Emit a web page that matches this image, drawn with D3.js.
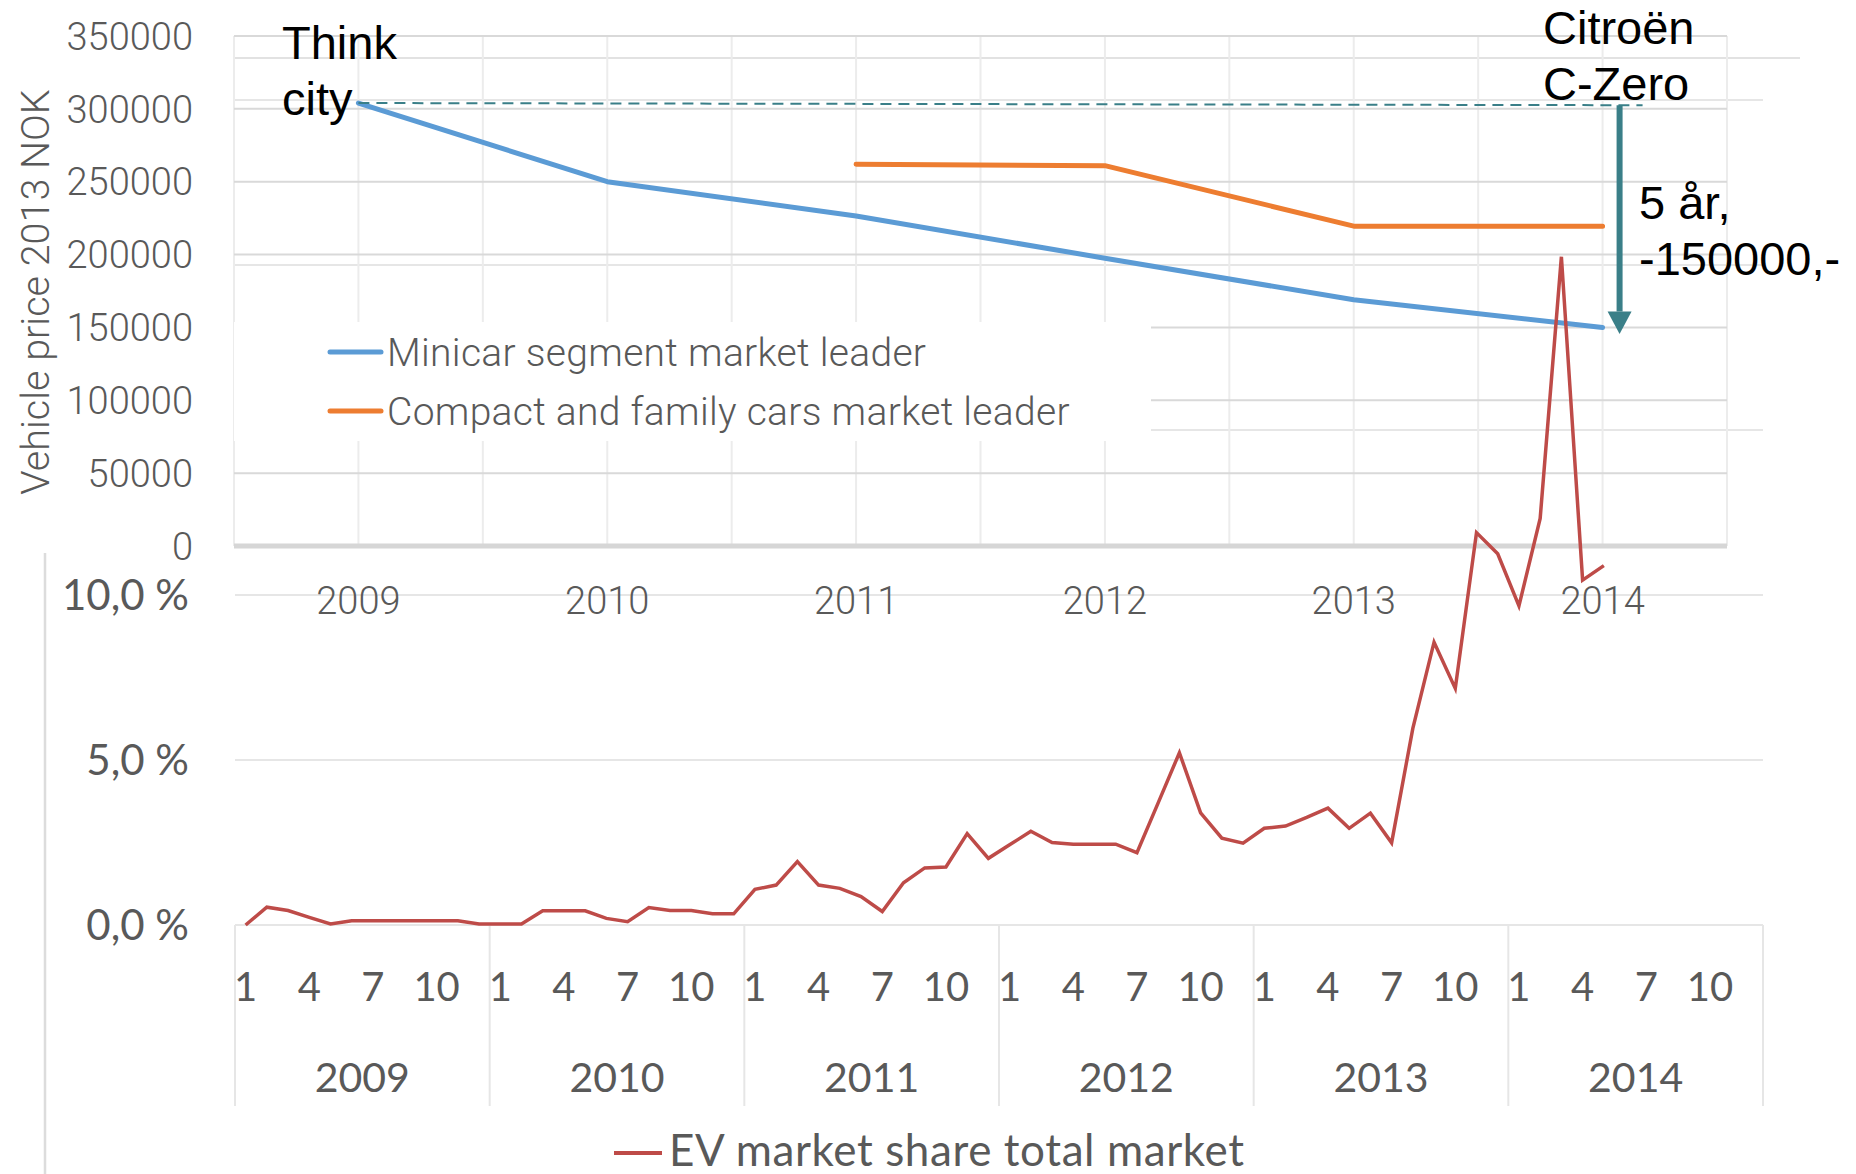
<!DOCTYPE html>
<html>
<head>
<meta charset="utf-8">
<script src="https://cdn.jsdelivr.net/npm/d3@7"></script>
<style>
  body { margin: 0; background: #fff; }
</style>
</head>
<body>
<div id="wrapper"></div>
<script>
// ---- data: vehicle price panel (top)
const priceYears = ["2009", "2010", "2011", "2012", "2013", "2014"]
const minicarPrices = [304000, 250000, 226500, 197500, 169000, 150000]
const compactPrices = [null, null, 262000, 261000, 219500, 219500]
const priceTicks = [0, 50000, 100000, 150000, 200000, 250000, 300000, 350000]
const priceSeriesNames = ["Minicar segment market leader", "Compact and family cars market leader"]

// ---- data: EV market share panel (bottom), monthly, %
const shareYears = ["2009", "2010", "2011", "2012", "2013", "2014"]
const monthLabels = [1, 4, 7, 10]
const shareTicks = [0, 5, 10]
const shareGridTicks = [0, 5, 10, 15, 20, 25]
const evShare = [
  0.00, 0.54, 0.44, 0.23, 0.03, 0.13, 0.13, 0.13, 0.13, 0.13, 0.13, 0.03,
  0.03, 0.03, 0.43, 0.43, 0.43, 0.20, 0.10, 0.53, 0.44, 0.44, 0.34, 0.34,
  1.08, 1.21, 1.92, 1.21, 1.11, 0.86, 0.41, 1.28, 1.73, 1.76, 2.77, 2.02,
  2.43, 2.84, 2.50, 2.45, 2.45, 2.45, 2.19, 3.70, 5.22, 3.40, 2.63, 2.48,
  2.93, 3.00, 3.26, 3.54, 2.93, 3.39, 2.49, 5.96, 8.57, 7.17, 11.89, 11.25,
  9.67, 12.32, 20.25, 10.45, 10.89
]
const evSeriesName = "EV market share total market"

function drawChart() {
  // 1. dimensions (two pasted-together panels that overlap)
  const dimensions = { width: 1856, height: 1174 }
  const top = { left: 234, right: 1727, top: 36, bottom: 546 }
  const bottom = { left: 235, right: 1763, zero: 925, ten: 595 }

  const axisFont = "Roboto, 'Noto Sans', sans-serif"
  const shareFont = "Lato, 'Open Sans', sans-serif"
  const noteFont = "'Liberation Sans', Arial, sans-serif"
  const grey = "#595959"

  // 2. canvas
  const svg = d3.select("#wrapper")
    .append("svg")
    .attr("width", dimensions.width)
    .attr("height", dimensions.height)

  // 3. scales
  const priceX = d3.scaleBand().domain(priceYears).range([top.left, top.right])
  const priceMid = d => priceX(d) + priceX.bandwidth() / 2
  const priceY = d3.scaleLinear().domain([0, 350000]).range([top.bottom, top.top])

  const months = evShare.map((d, i) => i)
  const allMonths = d3.range(shareYears.length * 12)
  const shareX = d3.scaleBand().domain(allMonths).range([bottom.left, bottom.right])
  const shareMid = i => shareX(i) + shareX.bandwidth() / 2
  const shareY = d3.scaleLinear().domain([0, 10]).range([bottom.zero, bottom.ten])

  // 4. bottom panel frame + grid
  const lower = svg.append("g")
  lower.append("line")
    .attr("x1", 45).attr("x2", 45)
    .attr("y1", 553).attr("y2", dimensions.height)
    .attr("stroke", "#dcdcdc").attr("stroke-width", 2.5)
  lower.append("line")
    .attr("x1", top.left).attr("x2", 1800)
    .attr("y1", 58).attr("y2", 58)
    .attr("stroke", "#e2e2e2").attr("stroke-width", 2)
  lower.selectAll(".sgrid")
    .data(shareGridTicks)
    .join("line")
    .attr("x1", bottom.left).attr("x2", bottom.right)
    .attr("y1", d => shareY(d)).attr("y2", d => shareY(d))
    .attr("stroke", "#e6e6e6").attr("stroke-width", 2)
  lower.selectAll(".slabel")
    .data(shareTicks)
    .join("text")
    .attr("x", 189)
    .attr("y", d => shareY(d))
    .attr("dy", "0.36em")
    .attr("text-anchor", "end")
    .attr("font-family", shareFont)
    .attr("font-size", 42)
    .attr("fill", grey)
    .text(d => d3.format(".1f")(d).replace(".", ",") + " %")

  // multi-level category axis: months, then years
  const yearStarts = shareYears.map((y, k) => shareX(k * 12))
  yearStarts.push(bottom.right)
  lower.selectAll(".ysep")
    .data(yearStarts)
    .join("line")
    .attr("x1", d => d).attr("x2", d => d)
    .attr("y1", bottom.zero).attr("y2", 1106)
    .attr("stroke", "#e6e6e6").attr("stroke-width", 2)
  const monthTickData = allMonths.filter(i => monthLabels.includes(i % 12 + 1))
  lower.selectAll(".mlabel")
    .data(monthTickData)
    .join("text")
    .attr("x", d => shareMid(d))
    .attr("y", 1001)
    .attr("text-anchor", "middle")
    .attr("font-family", shareFont)
    .attr("font-size", 40)
    .attr("fill", grey)
    .text(d => d % 12 + 1)
  lower.selectAll(".ylabel")
    .data(shareYears)
    .join("text")
    .attr("x", (d, k) => shareX(k * 12) + shareX.bandwidth() * 6)
    .attr("y", 1092)
    .attr("text-anchor", "middle")
    .attr("font-family", shareFont)
    .attr("font-size", 41)
    .attr("fill", grey)
    .text(d => d)

  // bottom legend
  lower.append("line")
    .attr("x1", 614).attr("x2", 662)
    .attr("y1", 1153).attr("y2", 1153)
    .attr("stroke", "#be4b48").attr("stroke-width", 4)
  lower.append("text")
    .attr("x", 669).attr("y", 1166)
    .attr("font-family", shareFont)
    .attr("font-size", 44)
    .attr("letter-spacing", 0.6)
    .attr("fill", grey)
    .text(evSeriesName)

  // 5. top panel grid + axes
  const upper = svg.append("g")
  const vGrid = []
  priceYears.forEach(y => { vGrid.push(priceX(y)); vGrid.push(priceMid(y)) })
  vGrid.push(top.right)
  upper.selectAll(".vgrid")
    .data(vGrid)
    .join("line")
    .attr("x1", d => d).attr("x2", d => d)
    .attr("y1", top.top).attr("y2", top.bottom)
    .attr("stroke", "#ececec").attr("stroke-width", 2)
  upper.selectAll(".pgrid")
    .data(priceTicks.slice(1))
    .join("line")
    .attr("x1", top.left).attr("x2", top.right)
    .attr("y1", d => priceY(d)).attr("y2", d => priceY(d))
    .attr("stroke", "#d9d9d9").attr("stroke-width", 2)
  upper.append("line")
    .attr("x1", top.left).attr("x2", top.right)
    .attr("y1", priceY(0)).attr("y2", priceY(0))
    .attr("stroke", "#d6d6d6").attr("stroke-width", 5)
  upper.selectAll(".plabel")
    .data(priceTicks)
    .join("text")
    .attr("x", 193)
    .attr("y", d => priceY(d))
    .attr("dy", "0.36em")
    .attr("text-anchor", "end")
    .attr("font-family", axisFont)
    .attr("font-weight", 300)
    .attr("font-size", 38)
    .attr("fill", grey)
    .text(d => d)
  upper.selectAll(".xlabel")
    .data(priceYears)
    .join("text")
    .attr("x", d => priceMid(d))
    .attr("y", 614)
    .attr("text-anchor", "middle")
    .attr("font-family", axisFont)
    .attr("font-weight", 300)
    .attr("font-size", 38)
    .attr("fill", grey)
    .text(d => d)
  upper.append("text")
    .attr("transform", "translate(35, 292) rotate(-90)")
    .attr("text-anchor", "middle")
    .attr("dominant-baseline", "central")
    .attr("font-family", axisFont)
    .attr("font-weight", 300)
    .attr("font-size", 39.5)
    .attr("fill", grey)
    .text("Vehicle price 2013 NOK")

  // legend box (opaque, hides grid behind it)
  upper.append("rect")
    .attr("x", top.left).attr("y", 322)
    .attr("width", 917).attr("height", 119)
    .attr("fill", "#fff")
  const colors = ["#5b9bd5", "#ed7d31"]
  const legend = upper.selectAll(".leg")
    .data(priceSeriesNames)
    .join("g")
    .attr("transform", (d, i) => `translate(0, ${352 + i * 59})`)
  legend.append("line")
    .attr("x1", 330).attr("x2", 381)
    .attr("stroke", (d, i) => colors[i])
    .attr("stroke-width", 5)
    .attr("stroke-linecap", "round")
  legend.append("text")
    .attr("x", 387)
    .attr("dy", "0.36em")
    .attr("font-family", axisFont)
    .attr("font-weight", 300)
    .attr("font-size", 39)
    .attr("letter-spacing", 0.3)
    .attr("fill", grey)
    .text(d => d)

  // 6. price lines
  const priceLine = d3.line()
    .defined(d => d[1] !== null)
    .x(d => priceMid(d[0]))
    .y(d => priceY(d[1]))
  const priceSeries = [minicarPrices, compactPrices]
  upper.selectAll(".pline")
    .data(priceSeries)
    .join("path")
    .attr("d", s => priceLine(priceYears.map((y, i) => [y, s[i]])))
    .attr("fill", "none")
    .attr("stroke", (d, i) => colors[i])
    .attr("stroke-width", 5)
    .attr("stroke-linecap", "round")
    .attr("stroke-linejoin", "round")

  // 7. EV share line
  const evLine = d3.line()
    .x(i => shareMid(i))
    .y(i => shareY(evShare[i]))
  svg.append("path")
    .attr("d", evLine(months))
    .attr("fill", "none")
    .attr("stroke", "#be4b48")
    .attr("stroke-width", 3.5)
    .attr("stroke-linejoin", "miter")

  // 8. annotations
  const teal = "#3a7f88"
  const arrowX = priceMid("2014") + 17
  const notes = svg.append("g")
  notes.append("line")
    .attr("x1", priceMid("2009")).attr("x2", arrowX + 23)
    .attr("y1", priceY(minicarPrices[0])).attr("y2", priceY(302500))
    .attr("stroke", teal).attr("stroke-width", 2)
    .attr("stroke-dasharray", "11 7")
  notes.append("line")
    .attr("x1", arrowX).attr("x2", arrowX)
    .attr("y1", priceY(302500)).attr("y2", priceY(161000))
    .attr("stroke", teal).attr("stroke-width", 6)
  notes.append("path")
    .attr("d", `M${arrowX - 12},${priceY(161000)} L${arrowX + 12},${priceY(161000)} L${arrowX},${priceY(145500)} Z`)
    .attr("fill", teal)

  const noteText = [
    { x: 282, y: 59, lines: ["Think", "city"] },
    { x: 1543, y: 44, lines: ["Citroën", "C-Zero"] },
    { x: 1639, y: 219, lines: ["5 år,", "-150000,-"] },
  ]
  noteText.forEach(n => {
    const t = notes.append("text")
      .attr("font-family", noteFont)
      .attr("font-size", 47)
      .attr("fill", "#000")
    n.lines.forEach((l, i) => {
      t.append("tspan")
        .attr("x", n.x)
        .attr("y", n.y + i * 56)
        .text(l)
    })
  })
}

drawChart()
</script>
</body>
</html>
